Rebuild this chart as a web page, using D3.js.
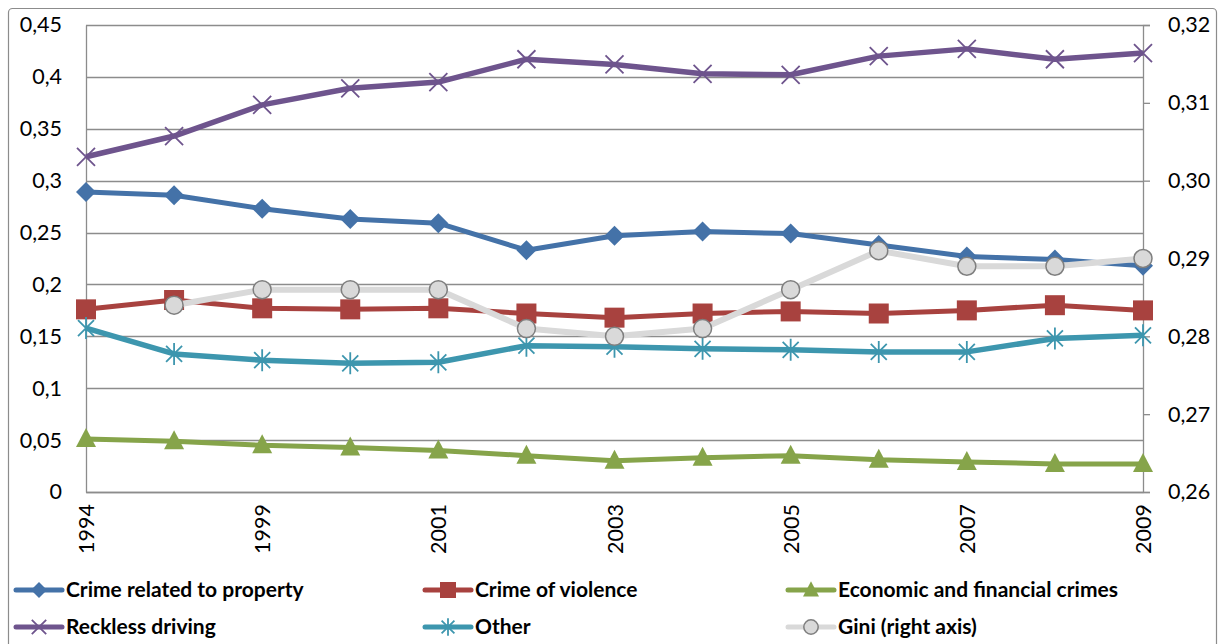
<!DOCTYPE html>
<html><head><meta charset="utf-8">
<script src="https://cdn.jsdelivr.net/npm/d3@7"></script>
<style>body{margin:0;background:#fff}svg{display:block}</style>
</head><body>
<svg id="c" width="1223" height="644"></svg>
<script>
const years = ["1994","1998","1999","2000","2001","2002","2003","2004","2005","2006","2007","2008","2009"];
const shownYears = ["1994","1999","2001","2003","2005","2007","2009"];
const property = [0.289,0.286,0.273,0.263,0.259,0.233,0.247,0.251,0.249,0.238,0.227,0.224,0.218];
const violence = [0.176,0.185,0.177,0.176,0.177,0.172,0.168,0.172,0.174,0.172,0.175,0.180,0.175];
const economic = [0.051,0.049,0.045,0.043,0.040,0.035,0.030,0.033,0.035,0.031,0.029,0.027,0.027];
const reckless = [0.323,0.343,0.373,0.389,0.395,0.417,0.412,0.403,0.402,0.420,0.427,0.417,0.423];
const other = [0.158,0.133,0.127,0.124,0.125,0.141,0.140,0.138,0.137,0.135,0.135,0.148,0.151];
const gini = [null,0.284,0.286,0.286,0.286,0.281,0.280,0.281,0.286,0.291,0.289,0.289,0.290];
const leftTicks = [0,0.05,0.1,0.15,0.2,0.25,0.3,0.35,0.4,0.45];
const rightTicks = [0.26,0.27,0.28,0.29,0.30,0.31,0.32];

const svg = d3.select("#c");
const L=86,R=1143,T=25,B=492;
const font = "Lato, 'Open Sans', sans-serif";
const x = d3.scalePoint().domain(years).range([L,R]);
const y = d3.scaleLinear().domain([0,0.45]).range([B,T]);
const y2 = d3.scaleLinear().domain([0.26,0.32]).range([B,T]);

svg.append("rect").attr("x",8.5).attr("y",8.5).attr("width",1208).attr("height",645)
  .attr("rx",4).attr("fill","#fff").attr("stroke","#8c8c8c").attr("stroke-width",1.2);

// gridlines
svg.append("g").selectAll("line").data(leftTicks).join("line")
  .attr("x1",L).attr("x2",R).attr("y1",d=>Math.round(y(d))+0.5).attr("y2",d=>Math.round(y(d))+0.5)
  .attr("stroke","#8c8c8c").attr("stroke-width",1.3);

// left axis
const fmtL = d=> String(+d.toFixed(2)).replace(".",",");
const gl = svg.append("g").attr("transform",`translate(${L},0)`)
  .call(d3.axisLeft(y).tickValues(leftTicks).tickSize(0).tickPadding(24).tickFormat(fmtL));
gl.select(".domain").attr("stroke","#8c8c8c").attr("stroke-width",1.3);
gl.selectAll("text").attr("font-family",font).attr("font-size",21.5).attr("fill","#000");

// right axis
const gr = svg.append("g").attr("transform",`translate(${R},0)`)
  .call(d3.axisRight(y2).tickValues(rightTicks).tickSize(7).tickPadding(18).tickFormat(d=>d.toFixed(2).replace(".",",")));
gr.select(".domain").attr("stroke","#8c8c8c").attr("stroke-width",1.3);
gr.selectAll("line").attr("stroke","#8c8c8c").attr("stroke-width",1.3);
gr.selectAll("text").attr("font-family",font).attr("font-size",21.5).attr("fill","#000");

// bottom axis
const gb = svg.append("g").attr("transform",`translate(0,${B})`)
  .call(d3.axisBottom(x).tickValues(shownYears).tickSize(0).tickPadding(0));
gb.select(".domain").attr("stroke","#8c8c8c").attr("stroke-width",1.3);
gb.selectAll("text").attr("font-family",font).attr("font-size",21.5).attr("fill","#000")
  .attr("transform","rotate(-90)").attr("text-anchor","end").attr("x",-12).attr("y",0).attr("dy","0.35em");

const series = [
  {name:"Crime related to property", vals:property, color:"#4472A8", marker:"diamond", sc:y, w:5},
  {name:"Crime of violence", vals:violence, color:"#A8423F", marker:"square", sc:y, w:5},
  {name:"Economic and financial crimes", vals:economic, color:"#86A44A", marker:"triangle", sc:y, w:5},
  {name:"Reckless driving", vals:reckless, color:"#6E548D", marker:"x", sc:y, w:5.5},
  {name:"Other", vals:other, color:"#3D96AE", marker:"star", sc:y, w:5.5},
  {name:"Gini (right axis)", vals:gini, color:"#D9D9D9", marker:"circle", sc:y2, w:6}
];

function drawMarker(g, type, color, s){
  s = s||1;
  if(type==="diamond") g.append("path").attr("d",`M0,${-10*s}L${10*s},0L0,${10*s}L${-10*s},0Z`).attr("fill",color);
  else if(type==="square") g.append("rect").attr("x",-10*s).attr("y",-10*s).attr("width",20*s).attr("height",20*s).attr("fill",color);
  else if(type==="triangle") g.append("path").attr("d",`M0,${-11*s}L${10*s},${8*s}L${-10*s},${8*s}Z`).attr("fill",color);
  else if(type==="x") g.append("path").attr("d",`M${-9*s},${-9*s}L${9*s},${9*s}M${9*s},${-9*s}L${-9*s},${9*s}`).attr("stroke",color).attr("stroke-width",1.8);
  else if(type==="star") g.append("path").attr("d",`M${-8*s},${-8*s}L${8*s},${8*s}M${8*s},${-8*s}L${-8*s},${8*s}M0,${-11*s}L0,${11*s}`).attr("stroke",color).attr("stroke-width",1.8);
  else if(type==="circle") g.append("circle").attr("r",9*s).attr("fill","#D9D9D9").attr("stroke","#7F7F7F").attr("stroke-width",1.5);
}

series.forEach(s=>{
  const pts = years.map((yr,i)=>({yr,v:s.vals[i]})).filter(p=>p.v!=null);
  const line = d3.line().x(p=>x(p.yr)).y(p=>s.sc(p.v));
  svg.append("path").datum(pts).attr("d",line).attr("fill","none")
    .attr("stroke",s.color).attr("stroke-width",s.w).attr("stroke-linejoin","round");
  pts.forEach(p=>{
    const g = svg.append("g").attr("transform",`translate(${x(p.yr)},${s.sc(p.v)})`);
    drawMarker(g,s.marker,s.color,1);
  });
});

// legend
const legPos = [[16,590],[425,590],[788,590],[16,627],[425,627],[788,627]];
series.forEach((s,i)=>{
  const [lx,ly]=legPos[i];
  svg.append("line").attr("x1",lx).attr("x2",lx+46).attr("y1",ly).attr("y2",ly)
    .attr("stroke",s.color).attr("stroke-width",5).attr("stroke-linecap","round");
  const g = svg.append("g").attr("transform",`translate(${lx+23},${ly})`);
  drawMarker(g,s.marker,s.color,0.8);
  svg.append("text").attr("x",lx+50).attr("y",ly).attr("dy","0.35em")
    .attr("font-family",font).attr("font-weight","bold").attr("font-size",21).attr("fill","#000").text(s.name);
});
</script>
</body></html>
